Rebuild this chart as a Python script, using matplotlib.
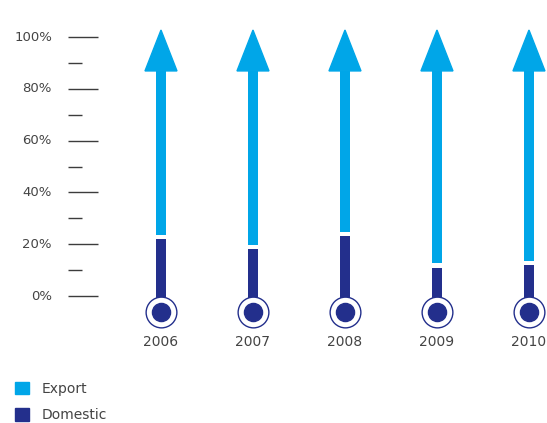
import matplotlib.pyplot as plt
from matplotlib.patches import Polygon, Patch

years = ["2006", "2007", "2008", "2009", "2010"]
domestic = [22, 18, 23, 11, 12]
export = [100 - d for d in domestic]
tick_pct = [0, 20, 40, 60, 80, 100]
minor_pct = [10, 30, 50, 70, 90]

cyan = "#00a6e8"
navy = "#232f8c"
grey = "#3c3c3c"

fig = plt.figure(figsize=(5.47, 4.23), dpi=100)
ax = fig.add_axes([0, 0, 1, 1])
ax.set_xlim(-1.75, 4.196)
ax.set_ylim(-49.03, 114.29)
ax.axis("off")

# percentage scale on the left
for p in tick_pct:
    ax.plot([-1.011, -0.685], [p, p], color=grey, lw=1, solid_capstyle="butt")
    ax.text(-1.185, p, f"{p}%", ha="right", va="center", fontsize=9.5, color="#444444")
for p in minor_pct:
    ax.plot([-1.011, -0.859], [p, p], color=grey, lw=1, solid_capstyle="butt")

x = list(range(len(years)))
w = 0.109
base = -6.2
gap = 1.7
head_base = 86.9
head_tip = 102.7
head_half = 0.174

ax.bar(x, [d - base for d in domestic], bottom=base, width=w, color=navy, zorder=2)
ax.bar(x, [head_base - (100 - e + gap) for e in export],
       bottom=[100 - e + gap for e in export], width=w, color=cyan, zorder=2)
for i in x:
    ax.add_patch(Polygon([[i - head_half, head_base], [i + head_half, head_base], [i, head_tip]],
                         closed=True, color=cyan, zorder=2))
    ax.text(i, -17.8, years[i], ha="center", va="center", fontsize=10, color="#444444")

# bulb at the foot of each column
ax.scatter(x, [base] * len(x), s=490, facecolor="white", edgecolor=navy, linewidth=1.0, zorder=3)
ax.scatter(x, [base] * len(x), s=170, color=navy, zorder=4)

handles = [Patch(color=cyan, label="Export"), Patch(color=navy, label="Domestic")]
fig.legend(handles=handles, loc="lower left", bbox_to_anchor=(0.013, -0.018), frameon=False,
           fontsize=10, handlelength=1.0, handleheight=1.0, handletextpad=0.9,
           labelspacing=0.9, labelcolor="#444444", borderaxespad=0.2)

fig.savefig("out.png", dpi=100)
